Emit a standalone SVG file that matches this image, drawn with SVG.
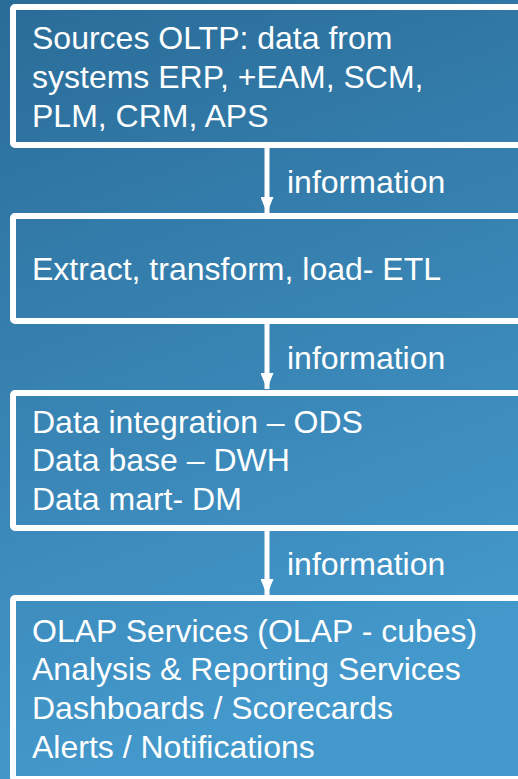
<svg xmlns="http://www.w3.org/2000/svg" width="518" height="779" viewBox="0 0 518 779">
  <defs>
    <linearGradient id="bg" x1="0" y1="0" x2="0.25" y2="1">
      <stop offset="0" stop-color="#2a6c98"/>
      <stop offset="1" stop-color="#4499cc"/>
    </linearGradient>
    <marker id="ah" viewBox="0 0 16 13" refX="16" refY="6.5" markerWidth="16" markerHeight="13" markerUnits="userSpaceOnUse" orient="auto">
      <path d="M0,0 L16,6.5 L0,13 Z" fill="#ffffff"/>
    </marker>
  </defs>
  <style>
    .box { fill: none; stroke: #ffffff; stroke-width: 6; }
    .t { font-family: "Liberation Sans", Arial, sans-serif; font-size: 32px; fill: #ffffff; }
    .conn { stroke: #ffffff; stroke-width: 5; fill: none; }
  </style>
  <rect x="0" y="0" width="518" height="779" fill="url(#bg)"/>
  <g id="node-sources">
    <rect class="box" x="13" y="7" width="530" height="138" rx="2"/>
    <text class="t" x="32" y="49">Sources OLTP: data from</text>
    <text class="t" x="32" y="88">systems ERP, +EAM, SCM,</text>
    <text class="t" x="32" y="127">PLM, CRM, APS</text>
  </g>
  <g id="node-etl">
    <rect class="box" x="13" y="216" width="530" height="105" rx="2"/>
    <text class="t" x="32" y="280">Extract, transform, load- ETL</text>
  </g>
  <g id="node-dwh">
    <rect class="box" x="13" y="393" width="530" height="135" rx="2"/>
    <text class="t" x="32" y="433">Data integration – ODS</text>
    <text class="t" x="32" y="471">Data base – DWH</text>
    <text class="t" x="32" y="510">Data mart- DM</text>
  </g>
  <g id="node-olap">
    <rect class="box" x="13" y="598" width="530" height="181" rx="2"/>
    <text class="t" x="32" y="642">OLAP Services (OLAP - cubes)</text>
    <text class="t" x="32" y="680">Analysis &amp; Reporting Services</text>
    <text class="t" x="32" y="719">Dashboards / Scorecards</text>
    <text class="t" x="32" y="758">Alerts / Notifications</text>
  </g>
  <g id="connectors">
    <line class="conn" x1="267" y1="148" x2="267" y2="213" marker-end="url(#ah)"/>
    <text class="t" x="287" y="193">information</text>
    <line class="conn" x1="267" y1="324" x2="267" y2="389" marker-end="url(#ah)"/>
    <text class="t" x="287" y="369">information</text>
    <line class="conn" x1="267" y1="531" x2="267" y2="595" marker-end="url(#ah)"/>
    <text class="t" x="287" y="575">information</text>
  </g>
</svg>
